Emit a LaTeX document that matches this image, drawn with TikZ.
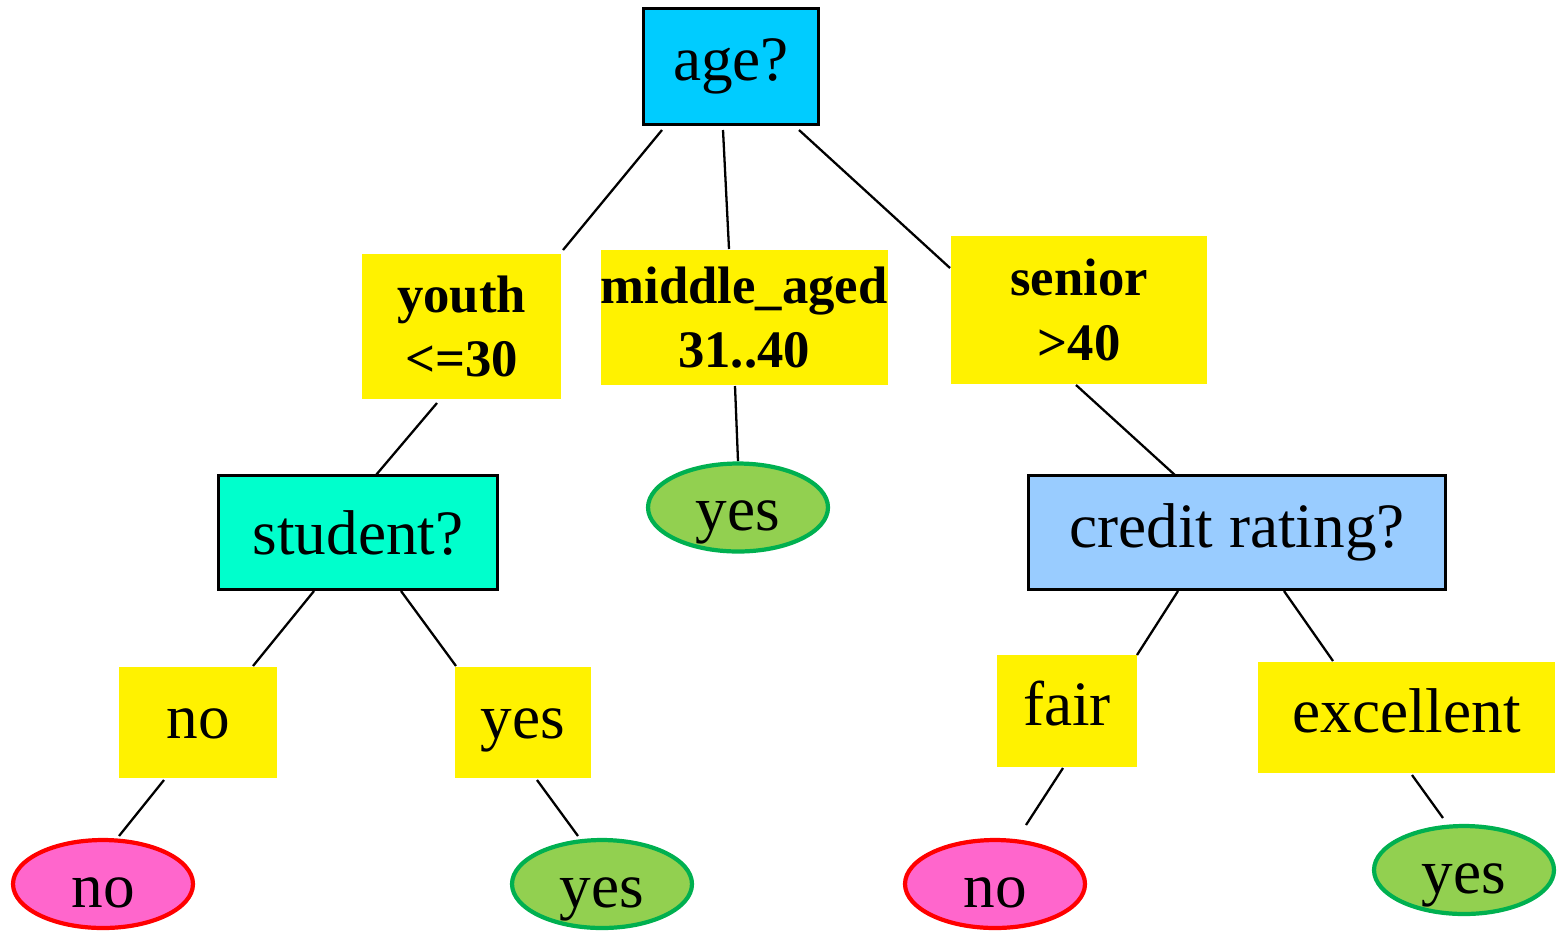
\documentclass[tikz,border=0pt]{standalone}
\usepackage{fontspec}
\setmainfont{Liberation Serif}
\usetikzlibrary{shapes.geometric}
\definecolor{agecol}{HTML}{00CCFF}
\definecolor{studcol}{HTML}{00FFCC}
\definecolor{credcol}{HTML}{99CCFF}
\definecolor{leafgreen}{HTML}{92D050}
\definecolor{leafgreenline}{HTML}{00B050}
\definecolor{leafpink}{HTML}{FF66CC}
\begin{document}
\begin{tikzpicture}[x=0.02cm,y=-0.02cm,
  testbox/.style={rectangle,draw=black,line width=1.3pt,inner sep=0pt,font=\fontsize{36}{40}\selectfont},
  boldlab/.style={rectangle,fill=yellow,inner sep=0pt,align=center,font=\fontsize{30}{36.5}\selectfont\bfseries},
  plainlab/.style={rectangle,fill=yellow,inner sep=0pt,text height=18pt,text depth=0pt,font=\fontsize{36}{40}\selectfont},
  leafyes/.style={ellipse,draw=leafgreenline,fill=leafgreen,line width=2.4pt,inner sep=0pt,minimum width=3.6cm,minimum height=1.76cm,text height=26.5pt,text depth=0pt,font=\fontsize{36}{40}\selectfont},
  leafno/.style={ellipse,draw=red,fill=leafpink,line width=2.4pt,inner sep=0pt,minimum width=3.6cm,minimum height=1.76cm,text height=26.5pt,text depth=0pt,font=\fontsize{36}{40}\selectfont},
  edge/.style={draw=black,line width=1.3pt}]
\useasboundingbox (0,0) rectangle (1557,931);
% nodes
\node[testbox,fill=agecol,minimum width=3.5cm,minimum height=2.32cm] (age) at (731,66.5) {age?};
\node[boldlab,minimum width=3.98cm,minimum height=2.9cm] (youth) at (461.5,326.5) {youth\\<=30};
\node[boldlab,minimum width=5.64cm,minimum height=2.7cm] (middle) at (744,317.5) {middle\_aged\\31..40};
\node[boldlab,minimum width=5.12cm,minimum height=2.96cm] (senior) at (1079,310) {senior\\>40};
\node[testbox,fill=studcol,minimum width=5.58cm,minimum height=2.28cm] (student) at (358,532.5) {student?};
\node[testbox,fill=credcol,minimum width=8.34cm,minimum height=2.28cm] (credit) at (1237,532.5) {credit rating?};
\node[leafyes] (yesmid) at (738,507.5) {yes};
\node[plainlab,minimum width=3.16cm,minimum height=2.22cm] (nolab) at (198,722.5) {no};
\node[plainlab,minimum width=2.72cm,minimum height=2.22cm] (yeslab) at (523,722.5) {yes};
\node[plainlab,text height=17pt,minimum width=2.8cm,minimum height=2.24cm] (fair) at (1067,711) {fair};
\node[plainlab,text height=17pt,minimum width=5.94cm,minimum height=2.22cm] (excellent) at (1406.5,717.5) {excellent};
\node[leafno] (noleft) at (103,884) {no};
\node[leafyes] (yesleft) at (602,884) {yes};
\node[leafno] (noright) at (995,884) {no};
\node[leafyes] (yesright) at (1464,870) {yes};
% connector ends
\coordinate (c1a) at (662,130); \coordinate (c1b) at (563,250);
\coordinate (c2a) at (723,130); \coordinate (c2b) at (729,249);
\coordinate (c3a) at (799,130); \coordinate (c3b) at (950,268);
\coordinate (c4a) at (437,403); \coordinate (c4b) at (376,475);
\coordinate (c5a) at (735,386); \coordinate (c5b) at (738,461);
\coordinate (c6a) at (1076,385); \coordinate (c6b) at (1176,476);
\coordinate (c7a) at (314,591); \coordinate (c7b) at (253,666);
\coordinate (c8a) at (401,591); \coordinate (c8b) at (456,666);
\coordinate (c9a) at (164,780); \coordinate (c9b) at (119,836);
\coordinate (c10a) at (537,780); \coordinate (c10b) at (578,836);
\coordinate (c11a) at (1178,591); \coordinate (c11b) at (1137,655);
\coordinate (c12a) at (1284,591); \coordinate (c12b) at (1333,661);
\coordinate (c13a) at (1063,768); \coordinate (c13b) at (1026,825);
\coordinate (c14a) at (1412,775); \coordinate (c14b) at (1443,818);
\foreach \i in {1,...,14} { \draw[edge] (c\i a) -- (c\i b); }
\end{tikzpicture}
\end{document}
